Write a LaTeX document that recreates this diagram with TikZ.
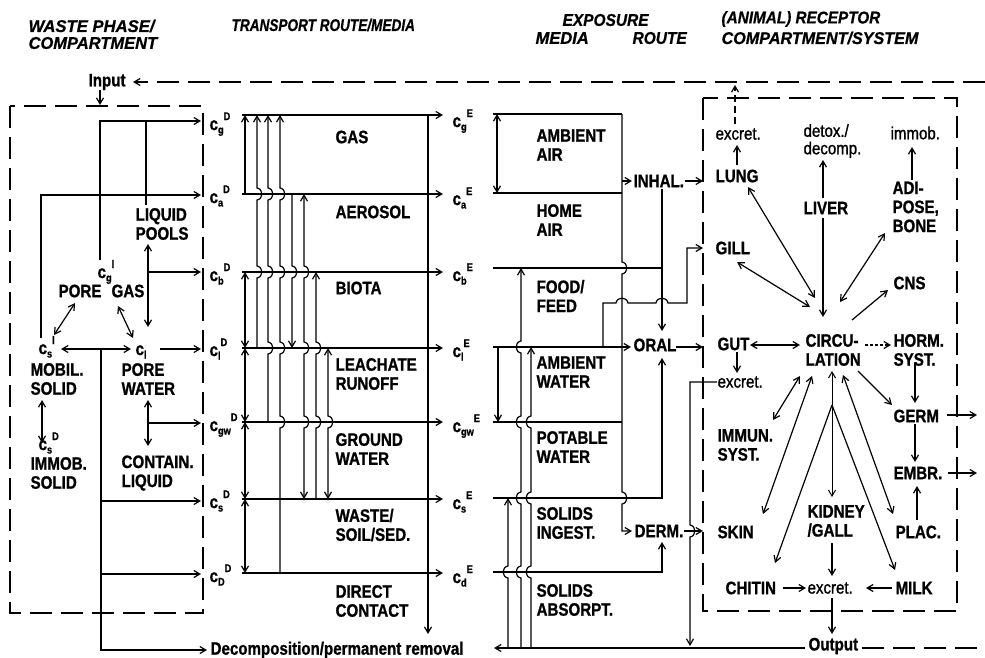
\documentclass[tikz,border=0pt]{standalone}
\usepackage{fontspec}
\usetikzlibrary{arrows.meta}
\setmainfont{Liberation Sans}
\newfontfamily\cndf[FakeStretch=0.86,FakeBold=1.2]{Liberation Sans}
\newfontfamily\heavyf[FakeStretch=0.84,FakeBold=1.0]{Liberation Sans}
\newfontfamily\hdrf[FakeBold=0.8]{Liberation Sans}
\newcommand\labf{\heavyf\bfseries\fontsize{18}{19}\selectfont}
\newcommand\smf{\cndf\fontsize{17.5}{17.5}\selectfont}
\newcommand\mdm{\heavyf\bfseries\fontsize{18}{19}\selectfont}
\newcommand\hdr{\hdrf\bfseries\itshape\fontsize{17}{17}\selectfont}
\newcommand\sbf{\heavyf\bfseries\fontsize{11}{11}\selectfont}
\newcommand\conc[2]{c\raisebox{-3.5pt}{\sbf #1}\raisebox{10pt}{\sbf #2}}
\newcommand\hR[2]{-- (#1,#2-6) .. controls (#1+6.5,#2-5) and (#1+6.5,#2+5) .. (#1,#2+6)}
\newcommand\hL[2]{-- (#1,#2-6) .. controls (#1-6.5,#2-5) and (#1-6.5,#2+5) .. (#1,#2+6)}
\newcommand\hU[2]{-- (#1-6,#2) .. controls (#1-5,#2-6.5) and (#1+5,#2-6.5) .. (#1+6,#2)}
\begin{document}
\begin{tikzpicture}[x=1pt,y=-1pt,line width=1.2pt,
  >={Straight Barb[length=6pt,width=7pt]},
  txt/.style={anchor=west,inner sep=0pt,align=left,font=\labf},
  stx/.style={anchor=west,inner sep=0pt,align=left,font=\smf},
  mtx/.style={anchor=west,inner sep=0pt,font=\mdm},
  cl/.style={anchor=base west,inner sep=0pt,font=\labf},
  hd/.style={anchor=west,inner sep=0pt,font=\hdr},
  dsh/.style={dash pattern=on 22pt off 9pt}]
\fill[white] (0,0) rectangle (985,657);
\useasboundingbox (0,0) rectangle (985,657);

% headers
\node[hd] (h1a) at (28,26) {\scalebox{0.98}[1]{WASTE PHASE/}};
\node[hd] (h1b) at (28,43) {\scalebox{0.97}[1]{COMPARTMENT}};
\node[hd] (h2) at (231,25) {\scalebox{0.8}[1]{TRANSPORT ROUTE/MEDIA}};
\node[hd] (h3) at (562,20) {\scalebox{0.91}[1]{EXPOSURE}};
\node[hd] (h4) at (535,38) {\scalebox{0.97}[1]{MEDIA}};
\node[hd] (h5) at (632,38) {\scalebox{0.91}[1]{ROUTE}};
\node[hd] (h6a) at (721,19) {\scalebox{0.9}[1]{(ANIMAL) RECEPTOR}};
\node[hd] (h6b) at (721,38) {\scalebox{0.95}[1]{COMPARTMENT/SYSTEM}};

% input / top loop
\node[mtx] (inp) at (88,82) {Input};
\draw[dsh,->] (985,82) -- (133,82);
\draw[->] (100,90) -- (100,105);

% waste box
\draw[dsh] (10,106) rectangle (203,613);
\node[txt] (lpool) at (135,224) {LIQUID\\POOLS};
\node[txt] (pore) at (58,291) {PORE};
\node[txt] (gas1) at (111,291) {GAS};
\node[cl] (cgl) at (97,278) {\conc{g}{l}};
\node[cl] (csl) at (38,354) {\conc{s}{l}};
\node[cl] (cl1) at (135,355) {c\raisebox{-3.5pt}{\sbf l}};
\node[txt] (mobil) at (30,379) {MOBIL.\\SOLID};
\node[txt] (porew) at (121,379) {PORE\\WATER};
\node[cl] (csd) at (38,450) {\conc{s}{D}};
\node[txt] (immobs) at (30,473) {IMMOB.\\SOLID};
\node[txt] (contl) at (121,473) {CONTAIN.\\LIQUID};

\draw[->] (100,260) -- (100,121) -- (201,121);
\draw (146,121) -- (146,205);
\draw[->] (41,338) -- (41,195) -- (201,195);
\draw[<->] (148,244) -- (148,327);
\draw[->] (148,272) -- (201,272);
\draw[<->] (75,303) -- (54,335);
\draw[<->] (118,306) -- (133,338);
\draw[<->] (61,349) -- (131,349);
\draw[->] (160,349) -- (201,349);
\draw[<->] (42,400) -- (42,443);
\draw[<->] (148,400) -- (148,446);
\draw[->] (148,423) -- (201,423);
\node[mtx] (dec) at (210,650) {Decomposition/permanent removal};
\draw[->] (101,349) -- (101,650) -- (207,650);
\draw[->] (101,501) -- (201,501);
\draw[->] (101,574) -- (201,574);

% D labels
\node[cl] (cgD) at (209,130) {\conc{g}{D}};
\node[cl] (caD) at (209,203) {\conc{a}{D}};
\node[cl] (cbD) at (209,281) {\conc{b}{D}};
\node[cl] (clD) at (209,356) {\conc{l}{D}};
\node[cl] (cgwD) at (209,431) {\conc{gw}{D}};
\node[cl] (csD) at (209,508) {\conc{s}{D}};
\node[cl] (cdD) at (209,582) {\conc{D}{D}};

% transport
\foreach \yy in {115,194,272,348,422,499,573} \draw[->] (242,\yy) -- (443,\yy);
\draw[->] (428,114) -- (428,634);
\draw[->] (245,194) -- (245,115);
\draw[<->] (245,272) -- (245,348);
\draw[<->] (245,348) -- (245,422);
\draw[<->] (245,422) -- (245,499);
\draw[<->] (245,499) -- (245,573);
\draw[<-] (257,115) \hR{257}{194} \hR{257}{272} -- (257,348);
\draw[<-] (268,115) \hR{268}{194} \hR{268}{272} \hR{268}{348} -- (268,422);
\draw[<-] (280,115) \hR{280}{194} \hR{280}{272} \hR{280}{348} \hR{280}{422} -- (280,573);
\draw[->] (292,194) \hR{292}{272} -- (292,348);
\draw[<->] (304,194) \hR{304}{272} \hR{304}{348} \hR{304}{422} -- (304,499);
\draw[<-] (316,272) \hR{316}{348} \hR{316}{422} -- (316,499);
\draw[<->] (328,348) \hR{328}{422} -- (328,499);

\node[txt] (tgas) at (335,137) {GAS};
\node[txt] (taer) at (335,212) {AEROSOL};
\node[txt] (tbio) at (335,288) {BIOTA};
\node[txt] (tlea) at (335,374) {LEACHATE\\RUNOFF};
\node[txt] (tgw) at (335,449) {GROUND\\WATER};
\node[txt] (tsoil) at (335,525) {WASTE/\\SOIL/SED.};
\node[txt] (tdir) at (335,601) {DIRECT\\CONTACT};

% E labels
\node[cl] (cgE) at (452,127) {\conc{g}{E}};
\node[cl] (caE) at (452,205) {\conc{a}{E}};
\node[cl] (cbE) at (452,281) {\conc{b}{E}};
\node[cl] (clE) at (452,357) {\conc{l}{E}};
\node[cl] (cgwE) at (452,432) {\conc{gw}{E}};
\node[cl] (csE) at (452,509) {\conc{s}{E}};
\node[cl] (cdE) at (452,583) {\conc{d}{E}};

% exposure media
\node[txt] (eamb) at (536,145) {AMBIENT\\AIR};
\node[txt] (ehome) at (536,220) {HOME\\AIR};
\node[txt] (efood) at (536,296) {FOOD/\\FEED};
\node[txt] (eambw) at (536,372) {AMBIENT\\WATER};
\node[txt] (epot) at (536,447) {POTABLE\\WATER};
\node[txt] (eing) at (536,523) {SOLIDS\\INGEST.};
\node[txt] (eabs) at (536,600) {SOLIDS\\ABSORPT.};
\node[txt] (inhal) at (633,181) {INHAL.};
\node[txt] (oral) at (633,345) {ORAL};
\node[txt] (derm) at (634,531) {DERM.};

\draw (493,114) -- (622,114);
\draw[->] (622,114) \hR{622}{268} \hR{622}{498} -- (622,531) -- (632,531);
\draw (493,193) -- (622,193);
\draw (493,268) -- (662,268);
\draw[->] (493,347) -- (631,347);
\draw (493,422) -- (622,422);
\draw[->] (493,498) -- (662,498) -- (662,358);
\draw[->] (493,572) -- (662,572) -- (662,542);
\draw[->] (662,189) -- (662,331);
\draw[->] (603,347) -- (603,303) \hU{622}{303} \hU{662}{303} -- (687,303) -- (687,248) -- (703,248);
\draw[<->] (497,114) -- (497,193);
\draw[->] (498,347) -- (498,422);
\draw[<-] (508,498) \hL{508}{572} -- (508,648);
\draw[<-] (521,268) \hL{521}{347} \hL{521}{422} \hL{521}{498} \hL{521}{572} -- (521,648);
\draw[<-] (531,347) \hL{531}{422} \hL{531}{498} \hL{531}{572} -- (531,648);
\draw[->] (622,181) -- (632,181);
\draw[->] (inhal.east) -- (703,181);
\draw[->] (676,347) -- (703,347);
\draw[->] (derm.east) -- (703,531);

% bottom line
\node[mtx] (outp) at (808,646) {Output};
\draw[->] (805,648) -- (494,648);
\draw[dsh] (862,648) -- (985,648);

% receptor box
\draw[dsh] (703,98) rectangle (957,611);
\node[stx] (ext) at (715,134) {excret.};
\node[stx] (detox) at (803,141) {detox./\\decomp.};
\node[stx] (immob) at (890,133) {immob.};
\node[txt] (lung) at (715,176) {LUNG};
\node[txt] (liver) at (803,208) {LIVER};
\node[txt] (adip) at (892,207) {ADI-\\POSE,\\BONE};
\node[txt] (gill) at (715,248) {GILL};
\node[txt] (cns) at (893,283) {CNS};
\node[txt] (gut) at (717,344) {GUT};
\node[txt] (circ) at (805,350) {CIRCU-\\LATION};
\node[txt] (horm) at (893,350) {HORM.\\SYST.};
\node[stx] (exg) at (717,382) {excret.};
\node[txt] (germ) at (893,416) {GERM};
\node[txt] (immun) at (717,445) {IMMUN.\\SYST.};
\node[txt] (embr) at (893,473) {EMBR.};
\node[txt] (skin) at (717,532) {SKIN};
\node[txt] (kid) at (807,521) {KIDNEY\\/GALL};
\node[txt] (plac) at (895,532) {PLAC.};
\node[txt] (chit) at (725,588) {CHITIN};
\node[stx] (exb) at (807,588) {excret.};
\node[txt] (milk) at (895,588) {MILK};

\draw[dash pattern=on 7pt off 4pt,->] (735,124) -- (735,85);
\draw[->] (737,165) -- (737,145);
\draw[->] (823,198) -- (823,160);
\draw[->] (912,180) -- (912,147);
\draw[<->] (748,187) -- (815,298);
\draw[->] (823,218) -- (823,317);
\draw[<->] (885,233) -- (840,302);
\draw[<->] (737,262) -- (810,307);
\draw[->] (852,320) -- (888,290);
\draw[<->] (750,345) -- (800,345);
\draw[->,dash pattern=on 3pt off 2pt] (865,345) -- (891,345);
\draw[->] (737,352) -- (737,373);
\draw[->] (exg.west) -- (690,382) \hR{690}{531} -- (690,646);
\draw[->] (915,363) -- (915,403);
\draw[->] (858,371) -- (892,405);
\draw[->] (947,415) -- (977,415);
\draw[->] (915,424) -- (915,462);
\draw[->] (948,473) -- (977,473);
\draw[->] (917,520) -- (917,486);
\draw[<->] (800,376) -- (773,420);
\draw[<->] (812,376) -- (763,514);
\draw[<->,line width=1pt] (832,371) -- (832,497);
\draw[->] (832,405) -- (775,563);
\draw[->] (832,405) -- (895,570);
\draw[<->] (843,375) -- (893,514);
\draw[->] (832,543) -- (832,576);
\draw[->] (783,588) -- (806,588);
\draw[->] (892,588) -- (866,588);
\draw[->] (832,598) -- (832,634);
\end{tikzpicture}
\end{document}
